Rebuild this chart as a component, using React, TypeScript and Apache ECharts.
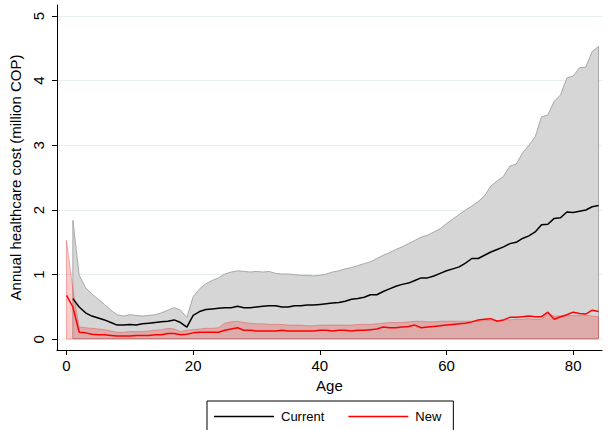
import React, { useEffect, useRef } from "react";
import * as echarts from "echarts";

const ages: number[] = [
  0, 1, 2, 3, 4, 5, 6, 7, 8, 9, 10, 11, 12, 13, 14, 15, 16, 17, 18, 19, 20,
  21, 22, 23, 24, 25, 26, 27, 28, 29, 30, 31, 32, 33, 34, 35, 36, 37, 38, 39, 40,
  41, 42, 43, 44, 45, 46, 47, 48, 49, 50, 51, 52, 53, 54, 55, 56, 57, 58, 59, 60,
  61, 62, 63, 64, 65, 66, 67, 68, 69, 70, 71, 72, 73, 74, 75, 76, 77, 78, 79, 80,
  81, 82, 83, 84,
];

// Current: mean and CI
const currentMean: (number | null)[] = [
  null, 0.63, 0.5, 0.41, 0.36, 0.33, 0.3, 0.26, 0.22, 0.22, 0.23,
  0.22, 0.24, 0.25, 0.26, 0.27, 0.28, 0.3, 0.26, 0.19, 0.37,
  0.43, 0.46, 0.47, 0.48, 0.49, 0.49, 0.51, 0.49, 0.49, 0.5,
  0.51, 0.52, 0.52, 0.5, 0.5, 0.52, 0.52, 0.53, 0.53, 0.54,
  0.55, 0.56, 0.57, 0.59, 0.62, 0.63, 0.65, 0.69, 0.69, 0.74,
  0.78, 0.82, 0.85, 0.87, 0.91, 0.95, 0.95, 0.98, 1.02, 1.06,
  1.09, 1.12, 1.18, 1.25, 1.25, 1.3, 1.35, 1.39, 1.43, 1.48,
  1.5, 1.56, 1.6, 1.66, 1.77, 1.78, 1.87, 1.88, 1.97, 1.96,
  1.98, 2.0, 2.05, 2.07,
];
const currentUpper: (number | null)[] = [
  null, 1.84, 0.99, 0.8, 0.7, 0.62, 0.54, 0.45, 0.38, 0.36, 0.38,
  0.37, 0.36, 0.37, 0.38, 0.41, 0.45, 0.49, 0.45, 0.34, 0.66,
  0.78, 0.86, 0.91, 0.95, 1.01, 1.04, 1.06, 1.05, 1.04, 1.05,
  1.04, 1.05, 1.02, 1.01, 1.01, 1.0, 0.99, 0.99, 0.98, 0.99,
  1.01, 1.04, 1.06, 1.09, 1.11, 1.14, 1.17, 1.2, 1.25, 1.3,
  1.34, 1.39, 1.43, 1.48, 1.53, 1.58, 1.61, 1.66, 1.71, 1.79,
  1.86, 1.93, 2.0, 2.06, 2.13, 2.22, 2.37, 2.45, 2.52, 2.68,
  2.71, 2.88, 3.0, 3.13, 3.44, 3.47, 3.68, 3.78, 4.04, 4.07,
  4.2, 4.21, 4.45, 4.53,
];
const currentLower: (number | null)[] = [
  null, 0.01, 0.01, 0.01, 0.01, 0.01, 0.01, 0.01, 0.01, 0.01, 0.01,
  0.01, 0.01, 0.01, 0.01, 0.01, 0.01, 0.01, 0.01, 0.01, 0.01,
  0.01, 0.01, 0.01, 0.01, 0.01, 0.01, 0.01, 0.01, 0.01, 0.01,
  0.01, 0.01, 0.01, 0.01, 0.01, 0.01, 0.01, 0.01, 0.01, 0.01,
  0.01, 0.01, 0.01, 0.01, 0.01, 0.01, 0.01, 0.01, 0.01, 0.01,
  0.01, 0.01, 0.01, 0.01, 0.01, 0.01, 0.01, 0.01, 0.01, 0.01,
  0.01, 0.01, 0.01, 0.01, 0.01, 0.01, 0.01, 0.01, 0.01, 0.01,
  0.01, 0.01, 0.01, 0.01, 0.01, 0.01, 0.01, 0.01, 0.01, 0.01,
  0.01, 0.01, 0.01, 0.01,
];

// New: mean and CI
const newMean: (number | null)[] = [
  0.68, 0.5, 0.11, 0.1, 0.08, 0.07, 0.07, 0.06, 0.05, 0.05, 0.05,
  0.06, 0.06, 0.06, 0.07, 0.07, 0.09, 0.09, 0.07, 0.08, 0.1,
  0.11, 0.11, 0.11, 0.11, 0.14, 0.16, 0.18, 0.14, 0.14, 0.13,
  0.13, 0.13, 0.13, 0.14, 0.13, 0.13, 0.13, 0.13, 0.13, 0.14,
  0.14, 0.13, 0.14, 0.14, 0.13, 0.14, 0.14, 0.15, 0.16, 0.19,
  0.18, 0.18, 0.19, 0.2, 0.22, 0.18, 0.19, 0.2, 0.21, 0.22,
  0.23, 0.24, 0.25, 0.27, 0.3, 0.31, 0.32, 0.28, 0.3, 0.34,
  0.34, 0.35, 0.36, 0.35, 0.35, 0.42, 0.31, 0.35, 0.38, 0.42,
  0.4, 0.39, 0.45, 0.43,
];
const newUpper: (number | null)[] = [
  1.53, 0.78, 0.19, 0.18, 0.17, 0.16, 0.15, 0.13, 0.11, 0.11, 0.12,
  0.12, 0.12, 0.13, 0.14, 0.15, 0.17, 0.16, 0.12, 0.14, 0.15,
  0.16, 0.17, 0.17, 0.18, 0.25, 0.27, 0.28, 0.26, 0.25, 0.24,
  0.24, 0.23, 0.23, 0.23, 0.22, 0.22, 0.22, 0.21, 0.21, 0.22,
  0.22, 0.22, 0.22, 0.22, 0.22, 0.23, 0.23, 0.23, 0.24, 0.25,
  0.26, 0.26, 0.26, 0.27, 0.28, 0.28, 0.27, 0.27, 0.28, 0.28,
  0.28, 0.28, 0.28, 0.28, 0.28, 0.29, 0.29, 0.29, 0.3, 0.3,
  0.31, 0.31, 0.32, 0.31, 0.31, 0.4, 0.36, 0.36, 0.36, 0.37,
  0.37, 0.37, 0.36, 0.35,
];
const newLower: (number | null)[] = [
  0.005, 0.005, 0.005, 0.005, 0.005, 0.005, 0.005, 0.005, 0.005, 0.005, 0.005,
  0.005, 0.005, 0.005, 0.005, 0.005, 0.005, 0.005, 0.005, 0.005, 0.005,
  0.005, 0.005, 0.005, 0.005, 0.005, 0.005, 0.005, 0.005, 0.005, 0.005,
  0.005, 0.005, 0.005, 0.005, 0.005, 0.005, 0.005, 0.005, 0.005, 0.005,
  0.005, 0.005, 0.005, 0.005, 0.005, 0.005, 0.005, 0.005, 0.005, 0.005,
  0.005, 0.005, 0.005, 0.005, 0.005, 0.005, 0.005, 0.005, 0.005, 0.005,
  0.005, 0.005, 0.005, 0.005, 0.005, 0.005, 0.005, 0.005, 0.005, 0.005,
  0.005, 0.005, 0.005, 0.005, 0.005, 0.005, 0.005, 0.005, 0.005, 0.005,
  0.005, 0.005, 0.005, 0.005,
];

const xTicks: number[] = [0, 20, 40, 60, 80];
const yTicks: number[] = [0, 1, 2, 3, 4, 5];

const FONT = "'Liberation Sans', Arial, sans-serif";

function bandSeries(
  upper: (number | null)[],
  lower: (number | null)[],
  fill: string,
  stroke: string,
  z: number
) {
  return {
    type: "custom",
    silent: true,
    z,
    clip: true,
    data: [[0, 0]],
    renderItem: (_params: any, api: any) => {
      const pts: number[][] = [];
      for (let i = 0; i < ages.length; i++) {
        const u = upper[i];
        if (u != null) pts.push(api.coord([ages[i], u]));
      }
      for (let i = ages.length - 1; i >= 0; i--) {
        const l = lower[i];
        if (l != null && upper[i] != null) pts.push(api.coord([ages[i], l]));
      }
      return {
        type: "polygon",
        shape: { points: pts },
        style: { fill, stroke, lineWidth: 1 },
      };
    },
  };
}

export default function App() {
  const ref = useRef<HTMLDivElement>(null);

  useEffect(() => {
    if (!ref.current) return;
    const chart = echarts.init(ref.current, null, { renderer: "svg" });
    const toPairs = (arr: (number | null)[]) =>
      ages.map((a, i) => [a, arr[i] == null ? null : arr[i]]);

    chart.setOption({
      animation: false,
      backgroundColor: "#ffffff",
      textStyle: { fontFamily: FONT },
      grid: { left: 52, right: 6, top: 5, bottom: 80, containLabel: false },
      legend: {
        data: ["Current", "New"],
        left: 207,
        top: 401,
        orient: "horizontal",
        icon: "rect",
        itemWidth: 60,
        itemHeight: 1.5,
        itemGap: 24,
        padding: [9, 12, 16, 7],
        borderColor: "#000000",
        borderWidth: 1,
        textStyle: { fontFamily: FONT, fontSize: 13, color: "#000", padding: [0, 0, 0, 2] },
      },
      xAxis: {
        type: "value",
        min: -1.52,
        max: 84.55,
        name: "Age",
        nameLocation: "middle",
        nameGap: 28,
        nameTextStyle: { fontFamily: FONT, fontSize: 15, color: "#000" },
        axisLine: { show: true, onZero: false, lineStyle: { color: "#000", width: 1 } },
        axisTick: { show: true, length: 5, customValues: xTicks, lineStyle: { color: "#000" } },
        axisLabel: {
          customValues: xTicks,
          margin: 8,
          fontFamily: FONT,
          fontSize: 15,
          color: "#000",
        },
        splitLine: { show: false },
      },
      yAxis: {
        type: "value",
        min: -0.165,
        max: 5.17,
        name: "Annual healthcare cost (million COP)",
        nameLocation: "middle",
        nameRotate: 90,
        nameGap: 32,
        nameTextStyle: { fontFamily: FONT, fontSize: 15, color: "#000" },
        axisLine: { show: true, onZero: false, lineStyle: { color: "#000", width: 1 } },
        axisTick: { show: true, length: 5, customValues: yTicks, lineStyle: { color: "#000" } },
        axisLabel: {
          customValues: yTicks,
          rotate: 90,
          margin: 11,
          fontFamily: FONT,
          fontSize: 15,
          color: "#000",
        },
        splitLine: { show: true, lineStyle: { color: "#e6eeef", width: 1 } },
      },
      series: [
        bandSeries(currentUpper, currentLower, "#d6d6d6", "#a8a8a8", 1),
        bandSeries(newUpper, newLower, "rgba(255,0,0,0.2)", "rgba(230,40,40,0.35)", 2),
        {
          name: "Current",
          type: "line",
          z: 3,
          symbol: "none",
          showSymbol: false,
          connectNulls: false,
          data: toPairs(currentMean),
          lineStyle: { color: "#000000", width: 1.5 },
          itemStyle: { color: "#000000" },
        },
        {
          name: "New",
          type: "line",
          z: 4,
          symbol: "none",
          showSymbol: false,
          connectNulls: false,
          data: toPairs(newMean),
          lineStyle: { color: "#ff0000", width: 1.5 },
          itemStyle: { color: "#ff0000" },
        },
      ],
    });

    return () => chart.dispose();
  }, []);

  return (
    <div
      ref={ref}
      style={{ position: "fixed", left: 0, top: 0, width: 608, height: 430 }}
    />
  );
}
